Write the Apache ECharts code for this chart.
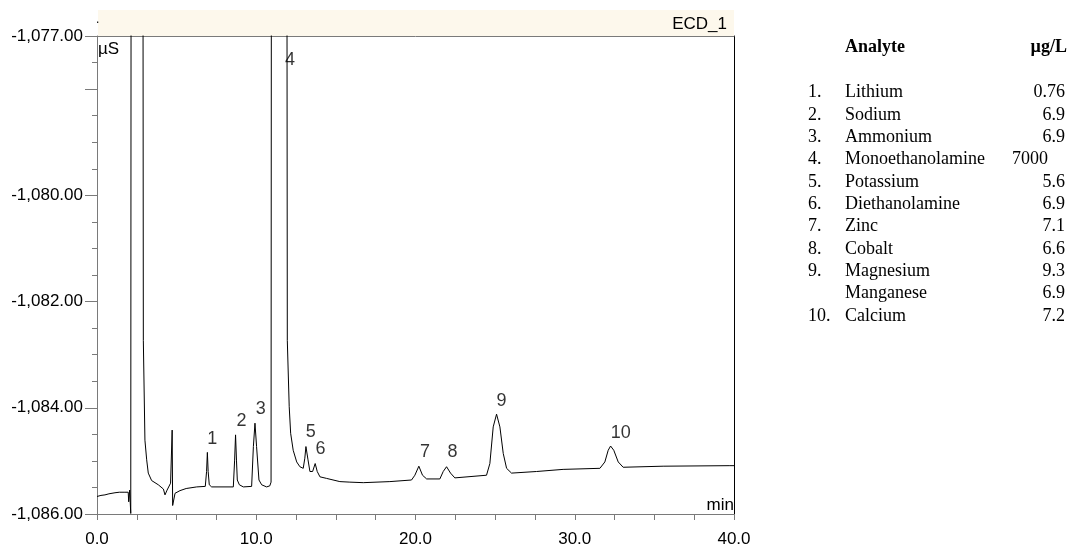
<!DOCTYPE html>
<html>
<head>
<meta charset="utf-8">
<script src="https://cdn.jsdelivr.net/npm/echarts@6/dist/echarts.min.js"></script>
<style>
  html, body { margin: 0; padding: 0; background: #ffffff; }
  #chart { width: 1070px; height: 549px; }
</style>
</head>
<body>
<div id="chart"></div>
<script>
// ---- Data ----
const times = [
  0.00, 0.25, 0.50, 0.75, 1.13, 1.40, 1.70, 1.96, 1.99, 2.05, 2.12, 2.17, 2.50, 2.84, 2.91,
  3.01, 3.12, 3.22, 3.43, 3.85, 4.17, 4.27, 4.40, 4.62, 4.72, 4.75, 4.90, 5.21, 5.60, 6.26,
  6.80, 6.88, 6.93, 6.98, 7.05, 7.20, 8.56, 8.64, 8.70, 8.76, 8.81, 8.94, 9.19, 9.71, 9.82,
  9.92, 10.02, 10.17, 10.34, 10.65, 10.85, 10.93, 10.98, 11.40, 11.88, 11.95, 12.07, 12.16, 12.32, 12.54,
  12.74, 12.95, 13.05, 13.12, 13.25, 13.37, 13.54, 13.70, 13.83, 14.00, 14.42, 15.25, 15.88, 16.72, 18.39,
  19.75, 19.96, 20.21, 20.44, 20.70, 21.53, 21.74, 21.95, 22.20, 22.47, 24.46, 24.67, 24.88, 25.09, 25.30,
  25.51, 25.72, 26.03, 27.60, 29.27, 31.58, 31.89, 32.10, 32.25, 32.45, 32.73, 33.04, 35.55, 39.74, 40.00
];
const signal = [
  -1085.67, -1085.65, -1085.64, -1085.62, -1085.60, -1085.59, -1085.59, -1085.59, -1085.77, -1085.55, -1085.99, -1060.00, -1040.00, -1060.00, -1082.73,
  -1084.61, -1084.98, -1085.23, -1085.37, -1085.45, -1085.53, -1085.64, -1085.55, -1085.42, -1084.42, -1085.84, -1085.61, -1085.56, -1085.52, -1085.49,
  -1085.48, -1085.20, -1084.84, -1085.20, -1085.45, -1085.49, -1085.49, -1085.00, -1084.51, -1085.00, -1085.36, -1085.45, -1085.49, -1085.48, -1084.73,
  -1084.29, -1084.73, -1085.36, -1085.45, -1085.49, -1085.47, -1085.40, -1060.00, -1040.00, -1060.00, -1082.73, -1083.98, -1084.48, -1084.80, -1085.02,
  -1085.11, -1085.14, -1084.95, -1084.73, -1084.98, -1085.20, -1085.20, -1085.05, -1085.20, -1085.30, -1085.33, -1085.39, -1085.40, -1085.41, -1085.39,
  -1085.36, -1085.27, -1085.10, -1085.27, -1085.34, -1085.34, -1085.20, -1085.11, -1085.23, -1085.32, -1085.27, -1085.05, -1084.36, -1084.12, -1084.36,
  -1084.86, -1085.14, -1085.23, -1085.20, -1085.16, -1085.14, -1085.02, -1084.80, -1084.72, -1084.80, -1085.02, -1085.12, -1085.10, -1085.09, -1085.09
];

// Peak number labels (anchored in data coordinates)
const peakNames = ['1', '2', '3', '4', '5', '6', '7', '8', '9', '10'];
const peakLabelTimes = [7.24, 9.08, 10.28, 12.12, 13.43, 14.04, 20.59, 22.33, 25.40, 32.89];
const peakLabelValues = [-1084.58, -1084.25, -1084.03, -1077.46, -1084.46, -1084.78, -1084.84, -1084.84, -1083.87, -1084.47];

// Axis tick labels
const xTickLabels = [0, 10, 20, 30, 40];
const yTickLabels = [-1086, -1084, -1082, -1080, -1077];

// Analyte table
const analyteNums = ['1.', '2.', '3.', '4.', '5.', '6.', '7.', '8.', '9.', '', '10.'];
const analyteNames = ['Lithium', 'Sodium', 'Ammonium', 'Monoethanolamine', 'Potassium', 'Diethanolamine', 'Zinc', 'Cobalt', 'Magnesium', 'Manganese', 'Calcium'];
const analyteConc = ['0.76', '6.9', '6.9', '7000', '5.6', '6.9', '7.1', '6.6', '9.3', '6.9', '7.2'];

// ---- Chart ----
function fmtY(v) {
  const s = Math.abs(v).toFixed(2);
  const parts = s.split('.');
  const intPart = parts[0].replace(/\B(?=(\d{3})+(?!\d))/g, ',');
  return (v < 0 ? '-' : '') + intPart + '.' + parts[1];
}

const SANS = '"Liberation Sans", Arial, sans-serif';
const SERIF = '"Liberation Serif", "Times New Roman", serif';
const AXIS_GRAY = '#7a7a7a';

const GRID = { left: 97, right: 336, top: 36, bottom: 35 };
const plotLeft = GRID.left, plotRight = 1070 - GRID.right;

const graphics = [
  { type: 'rect', shape: { x: plotLeft + 1, y: 10, width: plotRight - plotLeft - 1, height: 26 },
    style: { fill: '#fdf8ec' }, z: -1, silent: true },
  { type: 'text', x: plotRight - 7, y: 24, style: { text: 'ECD_1', font: '17px ' + SANS, fill: '#000',
    textAlign: 'right', textVerticalAlign: 'middle' } },
  { type: 'text', x: plotLeft - 1, y: 20, style: { text: '.', font: '12px ' + SANS, fill: '#000',
    textAlign: 'left', textVerticalAlign: 'middle' } },
  { type: 'text', x: plotLeft + 1, y: 49, style: { text: 'µS', font: '17px ' + SANS, fill: '#000',
    textAlign: 'left', textVerticalAlign: 'middle' } },
  { type: 'text', x: plotRight, y: 505, style: { text: 'min', font: '17px ' + SANS, fill: '#000',
    textAlign: 'right', textVerticalAlign: 'middle' } },
  { type: 'text', x: 845, y: 47, style: { text: 'Analyte', font: 'bold 18px ' + SERIF, fill: '#000',
    textAlign: 'left', textVerticalAlign: 'middle' } },
  { type: 'text', x: 1067, y: 47, style: { text: 'µg/L', font: 'bold 18px ' + SERIF, fill: '#000',
    textAlign: 'right', textVerticalAlign: 'middle' } }
];
for (let i = 0; i < analyteNames.length; i++) {
  const y = 92.5 + i * 22.35;
  graphics.push({ type: 'text', x: 808, y: y, style: { text: analyteNums[i], font: '18px ' + SERIF, fill: '#000',
    textAlign: 'left', textVerticalAlign: 'middle' } });
  graphics.push({ type: 'text', x: 845, y: y, style: { text: analyteNames[i], font: '18px ' + SERIF, fill: '#000',
    textAlign: 'left', textVerticalAlign: 'middle' } });
  const isBig = analyteConc[i] === '7000';
  graphics.push({ type: 'text', x: isBig ? 1048 : 1065, y: y, style: { text: analyteConc[i], font: '18px ' + SERIF, fill: '#000',
    textAlign: 'right', textVerticalAlign: 'middle' } });
}

const chart = echarts.init(document.getElementById('chart'), null, { renderer: 'canvas' });
chart.setOption({
  animation: false,
  backgroundColor: '#ffffff',
  grid: { left: GRID.left, right: GRID.right, top: GRID.top, bottom: GRID.bottom, containLabel: false },
  xAxis: [
    {
      type: 'value', position: 'bottom', min: 0, max: 40, interval: 2.5,
      axisLine: { show: true, onZero: false, lineStyle: { color: AXIS_GRAY, width: 1 } },
      axisTick: { show: true, length: 6, lineStyle: { color: AXIS_GRAY } },
      splitLine: { show: false },
      axisLabel: {
        show: true, margin: 17, color: '#000', fontFamily: SANS, fontSize: 17,
        showMinLabel: true, showMaxLabel: true,
        formatter: function (v) { return xTickLabels.indexOf(Math.round(v * 100) / 100) >= 0 ? v.toFixed(1) : ''; }
      }
    },
    {
      type: 'value', position: 'top', min: 0, max: 40,
      axisLine: { show: true, onZero: false, lineStyle: { color: AXIS_GRAY, width: 1 } },
      axisTick: { show: false }, axisLabel: { show: false }, splitLine: { show: false }
    }
  ],
  yAxis: [
    {
      type: 'value', position: 'left', min: -1086, max: -1077, interval: 0.5,
      axisLine: { show: true, onZero: false, lineStyle: { color: AXIS_GRAY, width: 1 } },
      axisTick: { show: true, length: 5, lineStyle: { color: AXIS_GRAY } },
      axisLabel: { show: false }, splitLine: { show: false }
    },
    {
      type: 'value', position: 'left', min: -1086, max: -1077, interval: 2,
      axisLine: { show: false, onZero: false },
      axisTick: { show: true, length: 12, lineStyle: { color: AXIS_GRAY } },
      splitLine: { show: false },
      axisLabel: {
        show: true, margin: 14, color: '#000', fontFamily: SANS, fontSize: 17,
        showMinLabel: true, showMaxLabel: true,
        formatter: function (v) { return yTickLabels.indexOf(Math.round(v)) >= 0 && Math.abs(v - Math.round(v)) < 1e-6 ? fmtY(v) : ''; }
      }
    },
    {
      type: 'value', position: 'right', min: -1086, max: -1077,
      axisLine: { show: true, onZero: false, lineStyle: { color: '#000', width: 1 } },
      axisTick: { show: false }, axisLabel: { show: false }, splitLine: { show: false }
    }
  ],
  series: [
    {
      type: 'line', xAxisIndex: 0, yAxisIndex: 0,
      data: times.map(function (t, i) { return [t, signal[i]]; }),
      showSymbol: false, symbol: 'none', clip: true, smooth: false,
      lineStyle: { color: '#000', width: 1 },
      z: 3, silent: true
    },
    {
      type: 'scatter', xAxisIndex: 0, yAxisIndex: 0, symbolSize: 0, clip: false,
      data: peakNames.map(function (n, i) { return { name: n, value: [peakLabelTimes[i], peakLabelValues[i]] }; }),
      label: {
        show: true, position: 'inside', color: '#000', fontFamily: SANS, fontSize: 18,
        formatter: function (p) { return p.name; }
      },
      z: 5, silent: true
    }
  ],
  graphic: graphics
});
</script>
</body>
</html>
